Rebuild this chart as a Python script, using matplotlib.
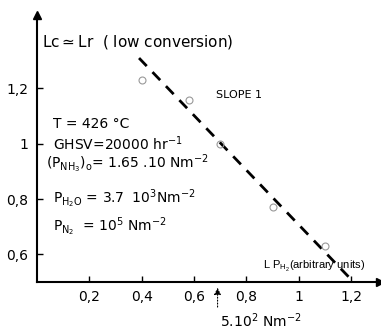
import numpy as np
import matplotlib
matplotlib.use('Agg')
import matplotlib.pyplot as plt
from matplotlib import font_manager

plt.rcParams['font.family'] = 'DejaVu Sans'
plt.rcParams['mathtext.default'] = 'regular'

# measured points (L P_H2, Lc)
x_pts = [0.40, 0.58, 0.70, 0.90, 1.10]
y_pts = [1.23, 1.16, 1.00, 0.77, 0.63]

# slope 1 line
fit_x = [0.39, 1.20]
fit_y = [1.31, 0.51]

xticks = [0.2, 0.4, 0.6, 0.8, 1.0, 1.2]
xlabels = ['0,2', '0,4', '0,6', '0,8', '1', '1,2']
yticks = [0.6, 0.8, 1.0, 1.2]
ylabels = ['0,6', '0,8', '1', '1,2']

names = {f.name for f in font_manager.fontManager.ttflist}
narrow = 'Liberation Sans Narrow' if 'Liberation Sans Narrow' in names else 'Liberation Sans'

fig = plt.figure(figsize=(3.81, 3.30), dpi=100)
ax = fig.add_axes([0.097, 0.145, 0.900, 0.809])
ax.set_xlim(0, 1.31)
ax.set_ylim(0.5, 1.465)

for s in ['top', 'right']:
    ax.spines[s].set_visible(False)
ax.spines['left'].set_linewidth(1.5)
ax.spines['bottom'].set_linewidth(1.5)
# axis arrow heads
ax.plot(1, 0, '>k', ms=6, transform=ax.transAxes, clip_on=False)
ax.plot(0, 1, '^k', ms=6, transform=ax.transAxes, clip_on=False)

ax.set_xticks(xticks)
ax.set_xticklabels(xlabels, fontsize=10)
ax.set_yticks(yticks)
ax.set_yticklabels(ylabels, fontsize=10)
ax.tick_params(direction='in', length=4, width=1, pad=6)

ax.plot(fit_x, fit_y, color='black', lw=2, ls=(0, (4, 3)))
ax.plot(x_pts, y_pts, 'o', mfc='none', mec='0.6', ms=5, mew=0.8)

fs = 10
ax.text(0.02, 1.367, r'Lc$\simeq$Lr  ( low conversion)', fontsize=11, va='center')
ax.text(0.685, 1.176, 'SLOPE 1', fontsize=8, va='center')
ax.text(0.061, 1.071, 'T = 426 °C', fontsize=fs, va='center')
ax.text(0.061, 1.002, r'GHSV=20000 hr$^{-1}$', fontsize=fs, va='center')
ax.text(0.034, 0.930, r'(P$_{NH_3}$)$_o$= 1.65 .10 Nm$^{-2}$', fontsize=fs, va='center')
ax.text(0.061, 0.803, r'P$_{H_2O}$ = 3.7  10$^3$Nm$^{-2}$', fontsize=fs, va='center')
ax.text(0.061, 0.702, r'P$_{N_2}$  = 10$^5$ Nm$^{-2}$', fontsize=fs, va='center')
ax.text(0.865, 0.558, r'L P$_{H_2}$(arbitrary units)', fontsize=8, va='center',
        family=narrow)

ax.annotate('', xy=(0.69, 0.49), xytext=(0.69, 0.40), xycoords='data',
            arrowprops=dict(arrowstyle='-|>', color='black', lw=0.8, ls=':'),
            annotation_clip=False)
ax.text(0.70, 0.362, r'5.10$^2$ Nm$^{-2}$', fontsize=fs, va='center')

fig.savefig('out.png', dpi=100)
